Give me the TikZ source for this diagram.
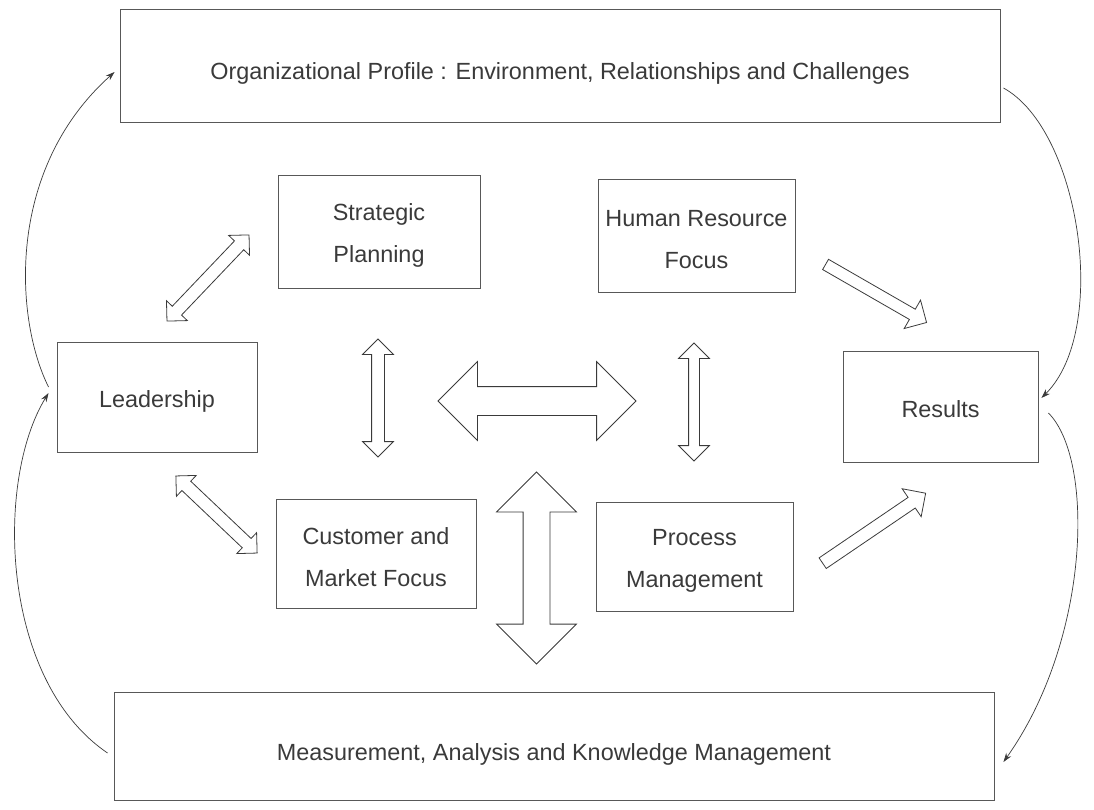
\documentclass[tikz,border=0pt]{standalone}
\usepackage{fontspec}
\setmainfont{Liberation Sans}
\usetikzlibrary{shapes.arrows,arrows.meta,calc}
\definecolor{ink}{HTML}{3A3A3A}
\newcommand{\lowstrut}{\rule{0pt}{25pt}}
\begin{document}
\begin{tikzpicture}[x=1pt,y=-1pt,
  box/.style={draw=ink!85, line width=0.9pt, text=ink, font=\fontsize{23.4}{42}\selectfont, align=center, inner sep=0pt},
  oneline/.style={text height=21pt, text depth=0pt},
  wideline/.style={text height=29pt, text depth=0pt},
  dbl/.style={draw=ink, line width=0.8pt, shape=double arrow, inner xsep=0pt, double arrow head indent=0pt},
  sgl/.style={draw=ink, line width=0.8pt, shape=single arrow, inner xsep=0pt, single arrow head indent=0pt},
  cycarrow/.style={draw=ink, line width=0.7pt, -{Stealth[length=9pt,width=6pt]}}]
\useasboundingbox (0,0) rectangle (1094,810);
% boxes
\node[box, wideline, minimum width=880, minimum height=113] (org) at (560,65.5) {Organizational Profile : Environment, Relationships and Challenges};
\node[box, minimum width=202, minimum height=113] (strat) at (379,231.5) {\lowstrut Strategic\\Planning};
\node[box, minimum width=197, minimum height=113] (hr) at (696.5,235.5) {\lowstrut Human Resource\\Focus};
\node[box, oneline, minimum width=200, minimum height=110] (lead) at (157,397) {Leadership};
\node[box, oneline, minimum width=195, minimum height=111] (res) at (940.5,406.5) {Results};
\node[box, minimum width=200, minimum height=109] (cust) at (376,553.5) {\lowstrut Customer and\\Market Focus};
\node[box, minimum width=197, minimum height=109] (proc) at (694.5,556.5) {\lowstrut Process\\Management};
\node[box, wideline, text height=28pt, minimum width=880, minimum height=108] (meas) at (554,746) {Measurement, Analysis and Knowledge Management};
% block arrows
\node[dbl, minimum height=119, inner ysep=6, double arrow head extend=8, rotate=46.4] (aLS) at (208,278) {};
\node[dbl, minimum height=112, inner ysep=6, double arrow head extend=8, rotate=-43.5] (aLC) at (216.5,514.5) {};
\node[dbl, minimum height=118, inner ysep=6, double arrow head extend=9, rotate=90] (aSC) at (378,398) {};
\node[dbl, minimum height=198, inner ysep=14, double arrow head extend=25] (aMid) at (537,401) {};
\node[dbl, minimum height=192, inner ysep=13, double arrow head extend=26.5, rotate=90] (aMeas) at (536.5,568) {};
\node[dbl, minimum height=118, inner ysep=5, double arrow head extend=10, rotate=90] (aHP) at (694,402) {};
\node[sgl, minimum height=116.5, inner ysep=5.5, single arrow head extend=10.5, rotate=-29.9] (aHR) at (873.5,292) {};
\node[sgl, minimum height=124.5, inner ysep=6, single arrow head extend=10.5, rotate=34.2] (aPR) at (871.5,530) {};
% cycle connectors
\draw[cycarrow] ($(lead.west)+(-8,-10)$) .. controls (15,320) and (5,170) .. ($(org.west)+(-5,6.5)$);
\draw[cycarrow] ($(meas.west)+(-6,7)$) .. controls (0,680) and (-5,480) .. ($(lead.west)+(-8,-4)$);
\draw[cycarrow] ($(org.east)+(3,22.5)$) .. controls (1080,130) and (1110,330) .. ($(res.east)+(3,-8.5)$);
\draw[cycarrow] ($(res.east)+(10,6.5)$) .. controls (1095,460) and (1090,640) .. ($(meas.east)+(9,16)$);
\end{tikzpicture}
\end{document}
